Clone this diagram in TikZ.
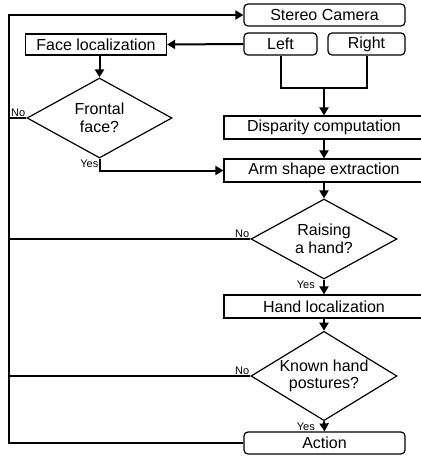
\documentclass[tikz,border=0pt]{standalone}
\usepackage{fontspec}
\setmainfont{Liberation Sans}
\usetikzlibrary{shapes.geometric,arrows.meta}

\begin{document}
\begin{tikzpicture}[x=1pt,y=-1pt,
    box/.style={draw, line width=1.2pt, minimum height=22pt, inner sep=0pt,
        font=\fontsize{16}{18}\selectfont},
    rbox/.style={box, rounded corners=4pt},
    decision/.style={draw, diamond, line width=1.2pt, inner sep=-8pt, align=center,
        font=\fontsize{16}{17.5}\selectfont},
    line/.style={line width=2pt},
    arr/.style={line, -{Triangle[length=8pt,width=9pt]}},
    lbl/.style={font=\fontsize{11}{12}\selectfont, inner sep=1pt}]
\useasboundingbox (0,0) rectangle (421,456);
% blocks
\node[rbox, minimum width=161pt] (cam) at (324.5,15) {Stereo Camera};
\node[rbox, minimum width=73pt] (left) at (280.5,44) {Left};
\node[rbox, minimum width=77pt] (right) at (366.5,44) {Right};
\node[box, minimum width=141pt, minimum height=21pt] (face) at (96,44.5) {Face localization};
\node[decision, minimum width=145pt, minimum height=80pt] (frontal) at (99.5,118) {Frontal\\face?};
\node[box, minimum width=200pt, minimum height=23pt] (disp) at (324,127.5) {Disparity computation};
\node[box, minimum width=200pt, minimum height=23pt] (arm) at (324,170.5) {Arm shape extraction};
\node[decision, minimum width=146pt, minimum height=80pt] (raise) at (324,239) {Raising\\a hand?};
\node[box, minimum width=200pt, minimum height=23pt] (hand) at (324,306.5) {Hand localization};
\node[decision, minimum width=146pt, minimum height=82pt] (known) at (324,376) {Known hand\\postures?};
\node[rbox, minimum width=161pt] (act) at (324.5,443) {Action};
\coordinate (rail) at (9,15);
\coordinate (join) at (324,88);
% connectors
\draw[arr] (act.west) -| (rail) -- (cam.west);
\draw[arr] (left.west) -- (face.east);
\draw[arr] (face.south -| frontal.north) -- (frontal.north);
\draw[line] (frontal.west) -- (frontal.west -| rail);
\draw[arr] (frontal.south) |- (arm.west);
\draw[line] (left.south) |- (join) -| (right.south);
\draw[arr] (join) -- (disp.north);
\draw[arr] (disp.south) -- (arm.north);
\draw[arr] (arm.south) -- (raise.north);
\draw[line] (raise.west) -- (raise.west -| rail);
\draw[arr] (raise.south) -- (hand.north);
\draw[arr] (hand.south) -- (known.north);
\draw[line] (known.west) -- (known.west -| rail);
\draw[arr] (known.south) -- (act.north);
% labels
\node[lbl, anchor=south east] (no1) at (frontal.west) {No};
\node[lbl, anchor=north east] (yes1) at (frontal.south) {Yes};
\node[lbl, anchor=south east] (no2) at (raise.west) {No};
\node[lbl, anchor=north east, xshift=-8pt] (yes2) at (raise.south) {Yes};
\node[lbl, anchor=south east] (no3) at (known.west) {No};
\node[lbl, anchor=north east, xshift=-8pt] (yes3) at (known.south) {Yes};
\end{tikzpicture}
\end{document}
